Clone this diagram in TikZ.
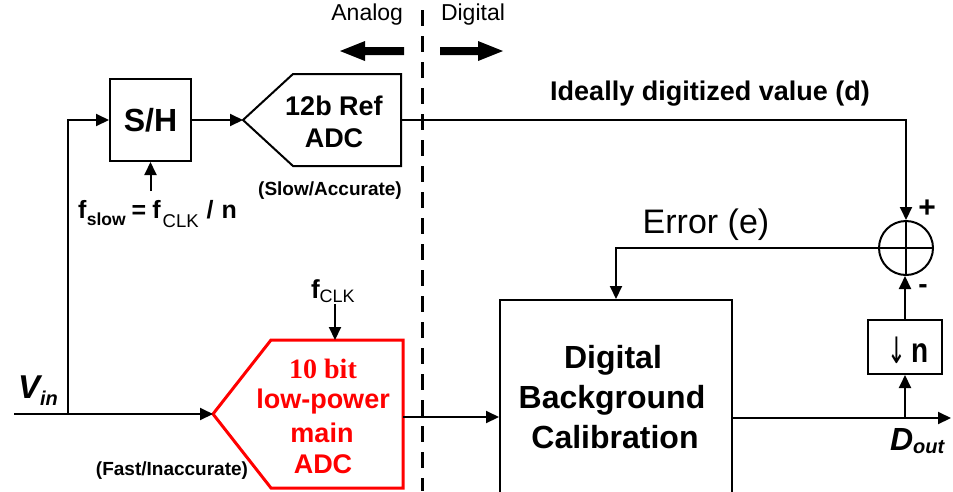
\documentclass[tikz,border=0pt]{standalone}
\usepackage{fontspec}
\usepackage{graphicx}
\setmainfont{Liberation Sans}
\newfontfamily\serifbold{Liberation Serif}
\newfontfamily\arrowfont{DejaVu Sans}
\usetikzlibrary{arrows.meta}
\newcommand\setfs[2]{\fontsize{#1}{#2}\selectfont}
\definecolor{adcred}{RGB}{255,0,0}
\begin{document}
\begin{tikzpicture}[x=1pt,y=-1pt,
  wire/.style={line width=2pt,-{Triangle[length=13pt,width=12pt]}},
  plainwire/.style={line width=2pt},
  blk/.style={draw,line width=2pt,inner sep=0pt},
  txt/.style={inner sep=0pt,outer sep=0pt},
  bigarrow/.style={fill=black,draw=none}]
\useasboundingbox (0,0) rectangle (953,491);
\clip (0,0) rectangle (953,491);

% Analog / Digital header
\node[txt,anchor=base east,font=\setfs{23}{23}] (analog) at (403,20) {Analog};
\node[txt,anchor=base west,font=\setfs{23}{23}] (digital) at (441,20) {Digital};
\fill[bigarrow] (340,51) -- (365,41) -- (365,47) -- (404,47) -- (404,55) -- (365,55) -- (365,61) -- cycle;
\fill[bigarrow] (503,51) -- (478,41) -- (478,47) -- (440,47) -- (440,55) -- (478,55) -- (478,61) -- cycle;
\draw[line width=3pt,dash pattern=on 16pt off 10pt] (422,10) -- (422,491);

% S/H
\node[blk,minimum width=81pt,minimum height=82pt,font=\setfs{32}{32}\bfseries] (sh) at (150.5,120) {S/H};
\node[txt,anchor=base west,font=\setfs{25}{25}\bfseries] (fslow) at (78,218)
  {f\hspace{0.5pt}\raisebox{-7pt}{\setfs{17.5}{17.5}slow}\hspace{6pt}=\hspace{6pt}f\hspace{2pt}\raisebox{-9pt}{\setfs{18.5}{18.5}\mdseries CLK}\hspace{8pt}/\hspace{8pt}n};
\coordinate (slowclk) at (150.5,191);

% Reference ADC
\coordinate (refin) at (243,120);
\coordinate (refout) at (401,120);
\draw[line width=2pt,line join=miter] (refin) -- (293,74) -- (401,74) -- (401,166) -- (293,166) -- cycle;
\node[txt,anchor=base,font=\setfs{27}{27}\bfseries] (ref1) at (334,115) {12b Ref};
\node[txt,anchor=base,font=\setfs{27}{27}\bfseries] (ref2) at (334,147) {ADC};
\node[txt,anchor=base,font=\setfs{19}{19}\bfseries] (slowacc) at (330,195) {(Slow/Accurate)};

% Main ADC
\coordinate (mainin) at (213,414);
\coordinate (mainout) at (403,417);
\coordinate (maintop) at (335,340);
\draw[adcred,line width=3pt,line join=miter] (mainin) -- (271,340) -- (403,340) -- (403,488) -- (271,488) -- cycle;
\node[txt,anchor=base,text=adcred,font=\setfs{28}{28}\serifbold\bfseries] (m1) at (323,378) {10 bit};
\node[txt,anchor=base,text=adcred,font=\setfs{27}{27}\bfseries] (m2) at (323,408) {low-power};
\node[txt,anchor=base,text=adcred,font=\setfs{27}{27}\bfseries] (m3) at (322,442) {main};
\node[txt,anchor=base,text=adcred,font=\setfs{27}{27}\bfseries] (m4) at (323,473) {ADC};
\node[txt,anchor=base west,font=\setfs{26}{26}\bfseries] (fclk) at (311,298)
  {f\raisebox{-4pt}{\setfs{18}{18}\mdseries CLK}};
\coordinate (clk) at (335,304);
\node[txt,anchor=base,font=\setfs{19}{19}\bfseries] (fastin) at (172,475) {(Fast/Inaccurate)};

% Input
\coordinate (vin) at (14,414);
\coordinate (jn) at (68,414);
\node[txt,anchor=base west,font=\setfs{33}{33}\bfseries\itshape] (vinlbl) at (18,398)
  {V\raisebox{-7pt}{\setfs{20}{20}in}};

% Calibration block
\node[blk,minimum width=232pt,minimum height=220pt] (cal) at (616,410) {};
\node[txt,anchor=base,font=\setfs{32}{32}\bfseries] (c1) at (613,368) {Digital};
\node[txt,anchor=base,font=\setfs{32}{32}\bfseries] (c2) at (612,408) {Background};
\node[txt,anchor=base,font=\setfs{32}{32}\bfseries] (c3) at (615,448) {Calibration};

% Summer and decimator
\node[draw,circle,line width=2pt,minimum size=54pt,inner sep=0pt] (sum) at (906,248) {};
\node[txt,font=\setfs{30}{30}\bfseries] (plus) at (927,209) {+};
\node[txt,font=\setfs{28}{28}\bfseries] (minus) at (923,289) {-};
\node[blk,minimum width=74pt,minimum height=54pt] (dn) at (905,347) {};
\node[txt,anchor=base west,font=\setfs{28}{28}\bfseries] (dntxt) at (887,362)
  {\raisebox{-1pt}{\scalebox{0.8}[1.3]{\arrowfont\mdseries ↓}}\hspace{6pt}\scalebox{1}[1.25]{n}};
\coordinate (tap) at (905,418);
\coordinate (dout) at (951,418);
\node[txt,anchor=base west,font=\setfs{32}{32}\bfseries\itshape] (doutlbl) at (890,450)
  {D\raisebox{-3pt}{\setfs{20}{20}out}};

\node[txt,anchor=base,font=\setfs{27}{27}\bfseries] (ideal) at (710,100) {Ideally digitized value (d)};
\node[txt,anchor=base,font=\setfs{34}{34}] (err) at (706,233) {Error (e)};

% Connectors
\draw[wire] (vin) -- (mainin);
\draw[wire] (jn) |- (sh.west);
\draw[wire] (sh.east) -- (refin);
\draw[wire] (slowclk) -- (sh.south);
\draw[wire] (refout) -| (sum.north);
\draw[plainwire] (sum.north) -- (sum.south);
\draw[wire] (sum.east) -- (sum.west) -| (cal.north);
\draw[wire] (clk) -- (maintop);
\draw[wire] (mainout) -- (mainout -| cal.west);
\draw[wire] (cal.east |- dout) -- (dout);
\draw[wire] (tap) -- (tap |- dn.south);
\draw[wire] (dn.north) -- (dn.north |- sum.south);
\end{tikzpicture}
\end{document}
